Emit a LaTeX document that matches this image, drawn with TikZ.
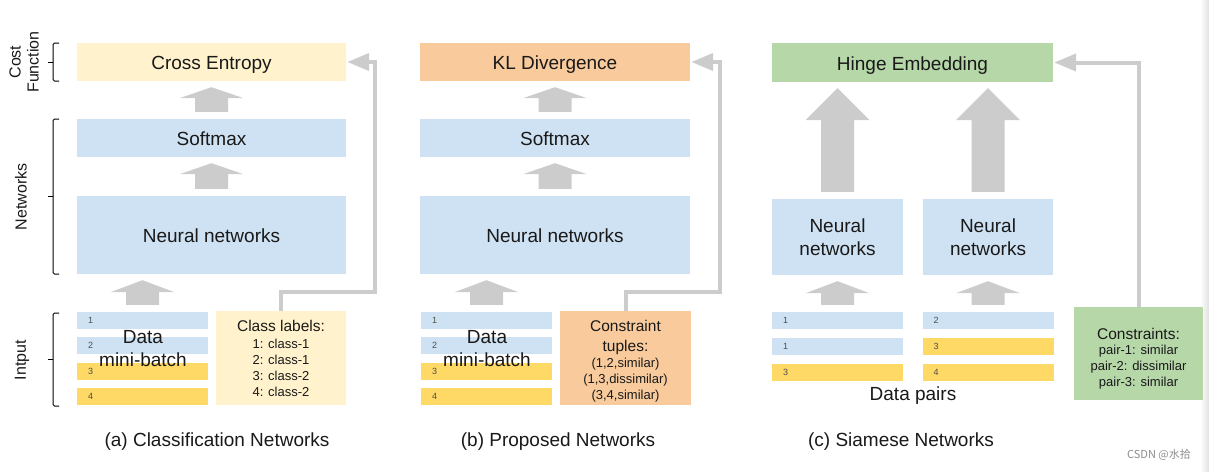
\documentclass[tikz,border=0pt]{standalone}
\usepackage{fontspec}
\setmainfont{Liberation Sans}
\newfontfamily\cjkfont{Noto Sans CJK SC}
\usetikzlibrary{calc,arrows.meta,positioning}

\definecolor{netblue}{HTML}{CFE2F3}
\definecolor{softyellow}{HTML}{FFF2CC}
\definecolor{datayellow}{HTML}{FFD966}
\definecolor{klorange}{HTML}{F9CB9C}
\definecolor{hingegreen}{HTML}{B6D7A8}
\definecolor{arrowgray}{HTML}{CCCCCC}

\begin{document}
\begin{tikzpicture}[x=1pt,y=-1pt]

  % Styles
  \tikzstyle{layer}=[inner sep=0pt,align=center,text=black!90,font=\fontsize{19}{23}\selectfont]
  \tikzstyle{oneline}=[text height=18.5pt,text depth=2.8pt]
  \tikzstyle{note}=[inner sep=0pt,align=center,text=black!90,font=\fontsize{13}{16}\selectfont]
  \tikzstyle{side}=[inner sep=0pt,align=center,rotate=90,text=black!90,font=\fontsize{16}{18}\selectfont]
  \tikzstyle{datarow}=[inner sep=0pt,inner xsep=11pt,minimum width=131pt,minimum height=17pt,text width=109pt,align=left,text=black!70,font=\fontsize{9}{9}\selectfont]
  \tikzstyle{fat}=[fill=arrowgray]
  \tikzstyle{feedback}=[draw=arrowgray,line width=4pt,-{Triangle[length=22pt,width=17pt]},shorten >=1pt]
  \tikzstyle{brack}=[draw=black,line width=1pt,rounded corners=1.5pt]

  % \layer{<id>}{<width>}{<height>}{<fill>}{<label>}
  \newcommand{\layer}[5]{node[layer,fill=#4,minimum width=#2,minimum height=#3] (#1) {#5}}
  % \datarow{<id>}{<fill>}{<number>}
  \newcommand{\datarow}[3]{node[datarow,fill=#2] (#1) {#3}}
  % \fatarrow{<from>}{<to>}{<head height>}
  \newcommand{\fatarrow}[3]{\fill[fat] let \p1=(#1.north), \p2=(#2.south) in
    (\x1-16.5pt,\y1+7pt) -- (\x1-16.5pt,\y2-6pt-#3) -- (\x1-32pt,\y2-6pt-#3) -- (\x1,\y2-6pt)
    -- (\x1+32pt,\y2-6pt-#3) -- (\x1+16.5pt,\y2-6pt-#3) -- (\x1+16.5pt,\y1+7pt) -- cycle;}
  % \sidebrace{<top>}{<bottom>}
  \newcommand{\sidebrace}[2]{\draw[brack] (59,#1) -- (53,#1) -- (53,#2) -- (59,#2);
    \draw[brack] (53,{(#1+#2)/2}) -- (48,{(#1+#2)/2});}
  \newcommand{\notehead}{\fontsize{15.5}{17}\selectfont}

  % ===========================================================================

  \useasboundingbox (0,0) rectangle (1209,471);
  \shade[left color=white,right color=black!12] (1200,0) rectangle (1209,471);

  % Side braces
  \sidebrace{43}{81}
  \sidebrace{119}{274}
  \sidebrace{313}{406}
  \node[side] (lblcost) at (24,62) {Cost\\Function};
  \node[side] (lblnet) at (21,197) {Networks};
  \node[side] (lblin) at (22,360) {Intput};

  % (a) Classification
  \path (211.5,62)  \layer{ceA}{269pt}{38pt}{softyellow,oneline}{Cross Entropy};
  \path (211.5,138) \layer{smA}{269pt}{38pt}{netblue,oneline}{Softmax};
  \path (211.5,235) \layer{nnA}{269pt}{78pt}{netblue,oneline}{Neural networks};

  % (b) Proposed
  \path (555,62)  \layer{klB}{270pt}{38pt}{klorange,oneline}{KL Divergence};
  \path (555,138) \layer{smB}{270pt}{38pt}{netblue,oneline}{Softmax};
  \path (555,235) \layer{nnB}{270pt}{78pt}{netblue,oneline}{Neural networks};

  % (c) Siamese
  \path (912.5,62.5) \layer{heC}{281pt}{39pt}{hingegreen,oneline}{Hinge Embedding};
  \path (837.5,237)  \layer{nnC1}{131pt}{76pt}{netblue}{Neural\\networks};
  \path (988,237)    \layer{nnC2}{130pt}{76pt}{netblue}{Neural\\networks};

  % Data rows
  \foreach \n/\y/\c in {1/320.5/netblue,2/345.5/netblue,3/371.5/datayellow,4/396.5/datayellow}{
    \path (142.5,\y) \datarow{rA\n}{\c}{\n};
    \path (486.5,\y) \datarow{rB\n}{\c}{\n};
  }
  \foreach \k/\y/\l/\cl/\r/\cr in {1/320.5/1/netblue/2/netblue,2/346.5/1/netblue/3/datayellow,3/372.5/3/datayellow/4/datayellow}{
    \path (837.5,\y) \datarow{rCl\k}{\cl}{\l};
    \path (988,\y)   \datarow{rCr\k}{\cr}{\r};
  }
  \node[layer] (dmA) at (143,348.5) {Data\\mini-batch};
  \node[layer] (dmB) at (487,348.5) {Data\\mini-batch};
  \node[layer,oneline] (pairsC) at (913,393) {Data pairs};

  % Side notes
  \path (281,358) node[note,fill=softyellow,minimum width=130pt,minimum height=94pt] (clsA)
    {\notehead Class labels:\\[1pt]1: class-1\\2: class-1\\3: class-2\\4: class-2};
  \path (625.5,358) node[note,fill=klorange,minimum width=131pt,minimum height=94pt] (conB)
    {\rule{0pt}{17pt}\notehead Constraint\\[4pt]\notehead tuples:\\(1,2,similar)\\(1,3,dissimilar)\\(3,4,similar)};
  \path (1138.5,353.5) node[note,fill=hingegreen,minimum width=129pt,minimum height=93pt] (cstC)
    {\rule{0pt}{21pt}\notehead Constraints:\\[-1pt]pair-1: similar\\pair-2: dissimilar\\pair-3: similar};

  % Draw arrows
  \fatarrow{smA}{ceA}{11pt}
  \fatarrow{nnA}{smA}{11pt}
  \fatarrow{rA1}{nnA}{12pt}
  \fatarrow{smB}{klB}{11pt}
  \fatarrow{nnB}{smB}{11pt}
  \fatarrow{rB1}{nnB}{12pt}
  \fatarrow{nnC1}{heC}{32pt}
  \fatarrow{nnC2}{heC}{32pt}
  \fatarrow{rCl1}{nnC1}{12pt}
  \fatarrow{rCr1}{nnC2}{12pt}

  \draw[feedback] (clsA.north) -- ++(0,-19) -| ($(ceA.east)+(29,0)$) -- (ceA.east);
  \draw[feedback] (conB.north) -- ++(0,-19) -| ($(klB.east)+(30,0)$) -- (klB.east);
  \draw[feedback] (cstC.north) |- (heC.east);

  % Captions
  \node[layer,oneline] (capA) at (217,439) {(a) Classification Networks};
  \node[layer,oneline] (capB) at (558,439) {(b) Proposed Networks};
  \node[layer,oneline] (capC) at (901,439) {(c) Siamese Networks};
  \node[text=black!45,font=\cjkfont\fontsize{11}{11}\selectfont] (mark) at (1159,455) {CSDN @水拾};

\end{tikzpicture}
\end{document}
